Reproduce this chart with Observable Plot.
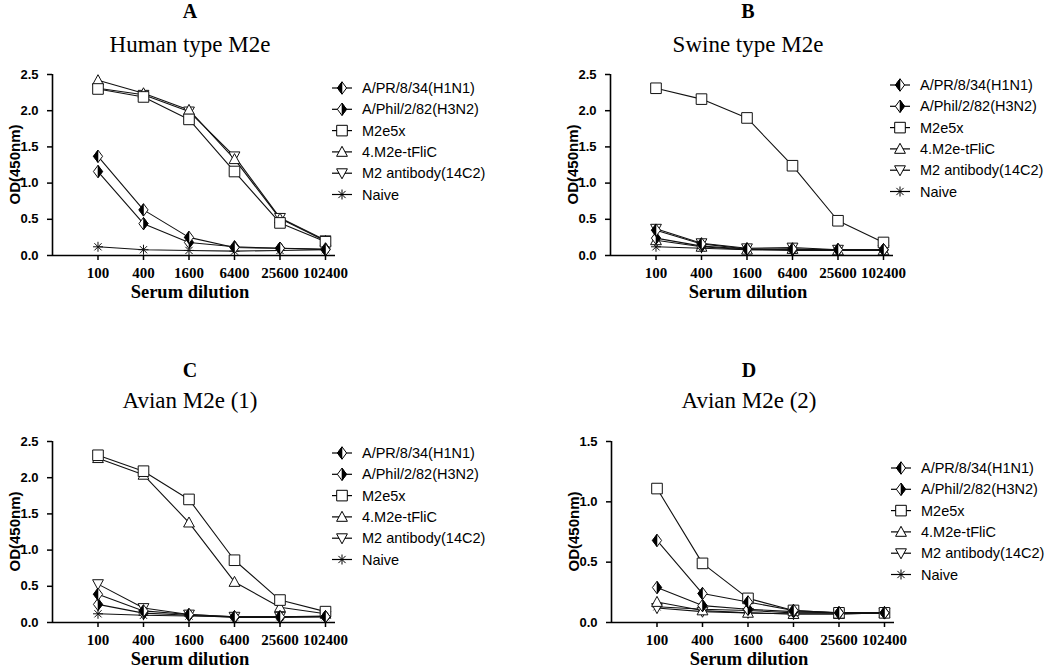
<!DOCTYPE html>
<html><head><meta charset="utf-8">
<script src="https://cdn.jsdelivr.net/npm/d3@7"></script>
<script src="https://cdn.jsdelivr.net/npm/@observablehq/plot@0.6"></script>
<style>
body{margin:0;background:#fff;}
#root{position:relative;width:1050px;height:669px;overflow:hidden;background:#fff;}
.panel{position:absolute;}
#overlay{position:absolute;left:0;top:0;pointer-events:none;}
</style></head><body><div id="root"></div>
<script>
// ---- data ----
const dilutions = [100, 400, 1600, 6400, 25600, 102400];
const seriesNames = ["A/PR/8/34(H1N1)", "A/Phil/2/82(H3N2)", "M2e5x", "4.M2e-tFliC", "M2 antibody(14C2)", "Naive"];
const panelLetters = ["A", "B", "C", "D"];
const panelTitles = ["Human type M2e", "Swine type M2e", "Avian M2e (1)", "Avian M2e (2)"];
const yMaxes = [2.5, 2.5, 2.5, 1.5];
const xAxisTitle = "Serum dilution";
const yAxisTitle = "OD(450nm)";

// OD values, rows in seriesNames order, columns in dilutions order
const valuesA = [
  [1.37, 0.63, 0.25, 0.11, 0.10, 0.08],
  [1.16, 0.44, 0.18, 0.12, 0.10, 0.09],
  [2.30, 2.19, 1.88, 1.16, 0.45, 0.19],
  [2.42, 2.24, 2.01, 1.33, 0.51, 0.20],
  [2.31, 2.22, 1.99, 1.37, 0.52, 0.21],
  [0.12, 0.08, 0.07, 0.06, 0.07, 0.08]
];
const valuesB = [
  [0.35, 0.16, 0.09, 0.09, 0.08, 0.08],
  [0.24, 0.13, 0.09, 0.08, 0.08, 0.08],
  [2.31, 2.16, 1.90, 1.24, 0.48, 0.18],
  [0.21, 0.12, 0.08, 0.09, 0.07, 0.07],
  [0.37, 0.17, 0.10, 0.11, 0.08, 0.08],
  [0.12, 0.10, 0.08, 0.07, 0.07, 0.07]
];
const valuesC = [
  [0.39, 0.16, 0.11, 0.08, 0.08, 0.08],
  [0.25, 0.13, 0.10, 0.07, 0.07, 0.08],
  [2.31, 2.09, 1.70, 0.86, 0.31, 0.15],
  [2.27, 2.04, 1.38, 0.56, 0.21, 0.12],
  [0.53, 0.20, 0.11, 0.08, 0.08, 0.09],
  [0.12, 0.10, 0.09, 0.08, 0.08, 0.08]
];
const valuesD = [
  [0.68, 0.24, 0.17, 0.10, 0.08, 0.08],
  [0.29, 0.14, 0.11, 0.09, 0.08, 0.08],
  [1.11, 0.49, 0.20, 0.10, 0.08, 0.08],
  [0.17, 0.10, 0.08, 0.07, 0.07, 0.08],
  [0.12, 0.09, 0.08, 0.07, 0.07, 0.08],
  [0.13, 0.11, 0.10, 0.08, 0.08, 0.08]
];
const panelValues = [valuesA, valuesB, valuesC, valuesD];

// ---- symbols ----
const DW = 4.6, DH = 6.2;
const symDiamond = {draw(c){c.moveTo(0,-DH);c.lineTo(DW,0);c.lineTo(0,DH);c.lineTo(-DW,0);c.closePath();}};
const symLeftHalf = {draw(c){c.moveTo(0,-DH);c.lineTo(0,DH);c.lineTo(-DW,0);c.closePath();}};
const symRightHalf = {draw(c){c.moveTo(0,-DH);c.lineTo(DW,0);c.lineTo(0,DH);c.closePath();}};
const symSquare = {draw(c){const s=5.3;c.moveTo(-s,-s);c.lineTo(s,-s);c.lineTo(s,s);c.lineTo(-s,s);c.closePath();}};
const symTriUp = {draw(c){c.moveTo(0,-5.6);c.lineTo(5.4,4.4);c.lineTo(-5.4,4.4);c.closePath();}};
const symTriDown = {draw(c){c.moveTo(0,5.6);c.lineTo(5.4,-4.4);c.lineTo(-5.4,-4.4);c.closePath();}};
const symStar = {draw(c){const r=5,q=3.6;c.moveTo(-r,0);c.lineTo(r,0);c.moveTo(0,-r);c.lineTo(0,r);c.moveTo(-q,-q);c.lineTo(q,q);c.moveTo(-q,q);c.lineTo(q,-q);}};
const seriesSymbols = [symDiamond, symDiamond, symSquare, symTriUp, symTriDown, symStar];
const seriesHalves = [symLeftHalf, symRightHalf, null, null, null, null];

// ---- layout ----
const panelPos = [[0,0],[558,0],[0,367],[559,367]];
const W = 345, H = 250, mL = 52, mR = 10, mT = 14, mB = 55, svgTop = 60;
const legendRows = [88, 85, 453, 468];

const root = document.getElementById("root");
const drawOrder = [5, 4, 3, 2, 1, 0];
const xIndex = d => dilutions.indexOf(d.dil);
const xTicks = d3.range(dilutions.length);

panelValues.forEach((vals, p) => {
  const [px, py] = panelPos[p];
  const series = vals.map((row, i) => row.map((v, j) => ({dil: dilutions[j], od: v, s: i})));
  const yTicks = d3.range(0, yMaxes[p] + 0.001, 0.5);
  const marks = [];
  for (const i of drawOrder) marks.push(Plot.line(series[i], {x: xIndex, y: "od", stroke: "#111", strokeWidth: 1.1}));
  for (const i of drawOrder) {
    marks.push(Plot.dot(series[i], {x: xIndex, y: "od", symbol: seriesSymbols[i], fill: "white", stroke: "#111", strokeWidth: 1, r: 5}));
    if (seriesHalves[i]) marks.push(Plot.dot(series[i], {x: xIndex, y: "od", symbol: seriesHalves[i], fill: "#000", stroke: "#000", strokeWidth: 0.6, r: 5}));
  }
  marks.push(Plot.ruleX([-1], {stroke: "#000", strokeWidth: 1.6}));
  marks.push(Plot.ruleY([0], {stroke: "#000", strokeWidth: 1.6}));
  marks.push(Plot.axisY(yTicks, {tickFormat: d3.format(".1f"), tickSize: 5, tickPadding: 9, fontSize: 13, fontWeight: "bold", fontFamily: "Liberation Sans, Arial, sans-serif", label: null, strokeWidth: 1.5, fill: "#000"}));
  marks.push(Plot.axisX(xTicks, {tickFormat: i => String(dilutions[i]), tickSize: 5, tickPadding: 7, fontSize: 15, fontWeight: "bold", fontFamily: "Liberation Serif, Times New Roman, serif", label: null, strokeWidth: 1.5, fill: "#000"}));
  const chart = Plot.plot({
    width: W, height: H,
    marginLeft: mL, marginRight: mR, marginTop: mT, marginBottom: mB,
    x: {type: "linear", domain: [-1, dilutions.length - 1 + 0.22]},
    y: {domain: [0, yMaxes[p]]},
    style: {background: "transparent", overflow: "visible"},
    marks
  });
  const div = document.createElement("div");
  div.className = "panel";
  div.style.left = px + "px";
  div.style.top = (py + svgTop) + "px";
  div.appendChild(chart);
  root.appendChild(div);
});

// ---- overlay text: titles, axis titles, legends ----
const ov = d3.select(root).append("svg").attr("id", "overlay").attr("width", 1050).attr("height", 669);
const serif = "Liberation Serif, Times New Roman, serif";
const sans = "Liberation Sans, Arial, sans-serif";
const rowTitleY = [[18, 52], [377, 408]];
panelLetters.forEach((letter, p) => {
  const [px, py] = panelPos[p];
  const row = p < 2 ? 0 : 1;
  const cx = px + 190;
  ov.append("text").attr("x", cx).attr("y", rowTitleY[row][0]).attr("text-anchor", "middle")
    .attr("font-family", serif).attr("font-weight", "bold").attr("font-size", 20).text(letter);
  ov.append("text").attr("x", cx).attr("y", rowTitleY[row][1]).attr("text-anchor", "middle")
    .attr("font-family", serif).attr("font-size", 23).text(panelTitles[p]);
  ov.append("text").attr("x", px + 190).attr("y", py + 298).attr("text-anchor", "middle")
    .attr("font-family", serif).attr("font-weight", "bold").attr("font-size", 18.5).text(xAxisTitle);
  const cy = py + svgTop + mT + (H - mT - mB) / 2;
  ov.append("text").attr("transform", `translate(${px + 14},${cy}) rotate(-90)`).attr("text-anchor", "middle")
    .attr("dominant-baseline", "central").attr("font-family", sans).attr("font-weight", "bold").attr("font-size", 15).text(yAxisTitle);
  // legend
  const lx = px + 342;
  seriesNames.forEach((name, i) => {
    const y = legendRows[p] + i * 21.3;
    ov.append("line").attr("x1", lx - 10).attr("x2", lx + 10).attr("y1", y).attr("y2", y).attr("stroke", "#000").attr("stroke-width", 1.2);
    const path = d3.path(); seriesSymbols[i].draw(path);
    ov.append("path").attr("d", path.toString()).attr("transform", `translate(${lx},${y})`).attr("fill", "white").attr("stroke", "#000").attr("stroke-width", 1);
    if (seriesHalves[i]) {
      const hp = d3.path(); seriesHalves[i].draw(hp);
      ov.append("path").attr("d", hp.toString()).attr("transform", `translate(${lx},${y})`).attr("fill", "#000").attr("stroke", "#000").attr("stroke-width", 0.6);
    }
    ov.append("text").attr("x", lx + 20).attr("y", y).attr("dominant-baseline", "central")
      .attr("font-family", sans).attr("font-size", 14.5).text(name);
  });
});
</script>
</body></html>
